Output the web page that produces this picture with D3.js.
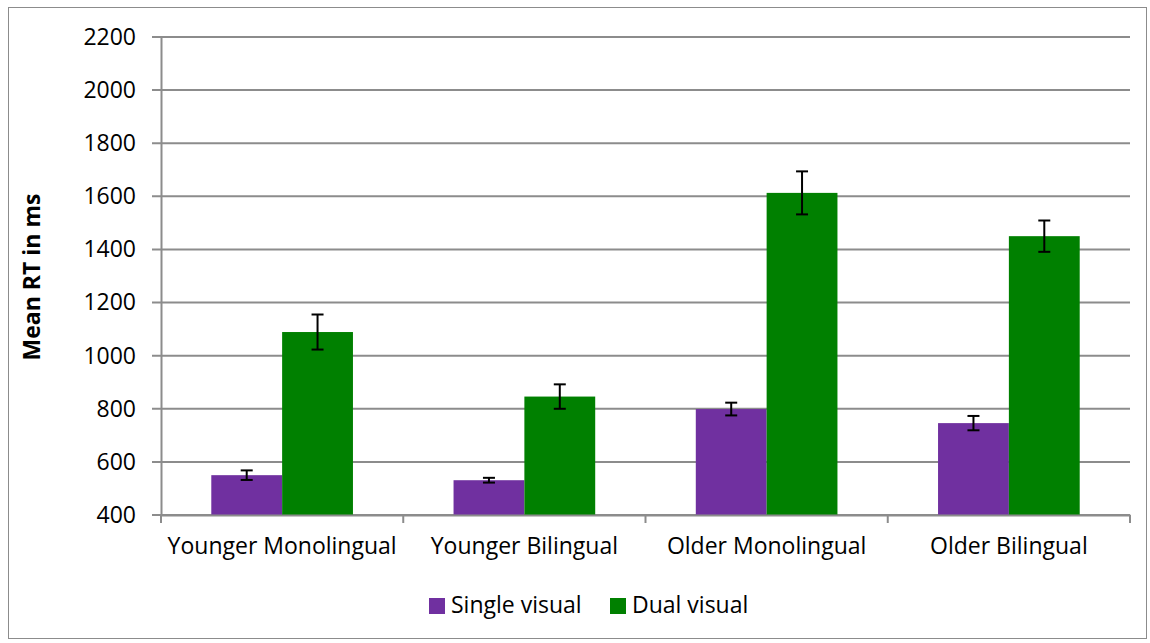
<!DOCTYPE html>
<html><head><meta charset="utf-8">
<script src="https://cdn.jsdelivr.net/npm/d3@7"></script>
<style>body{margin:0;background:#fff}svg{display:block}</style>
</head><body>
<script>
const categories = ["Younger Monolingual", "Younger Bilingual", "Older Monolingual", "Older Bilingual"];
const seriesNames = ["Single visual", "Dual visual"];
const singleVisual = [550, 531, 799, 746];
const dualVisual = [1089, 846, 1613, 1450];
const singleErr = [18, 9, 24, 27];
const dualErr = [66, 46, 81, 59];
const yTicks = [400, 600, 800, 1000, 1200, 1400, 1600, 1800, 2000, 2200];
const colors = ["#7030A0", "#008000"];

(function () {
const W = 1150, H = 643;
const font = "'Open Sans', Lato, sans-serif";
const fs = 23;
const svg = d3.select("body").append("svg").attr("width", W).attr("height", H);
svg.append("rect").attr("x", 8.5).attr("y", 7.5).attr("width", 1138).attr("height", 631)
  .attr("fill", "#fff").attr("stroke", "#8c8c8c").attr("stroke-width", 1);

const pL = 161, pR = 1130, pT = 37, pB = 515;
const x = d3.scaleBand().domain(categories).range([pL, pR]).paddingInner(0).paddingOuter(0);
const y = d3.scaleLinear().domain([400, 2200]).range([pB, pT]);
const xs = d3.scaleBand().domain(seriesNames).range([0, x.bandwidth()]).paddingInner(0).paddingOuter(0.71);

const gridColor = "#8c8c8c";
svg.append("g").selectAll("line").data(yTicks).join("line")
  .attr("x1", pL - 9).attr("x2", pR).attr("y1", d => y(d)).attr("y2", d => y(d))
  .attr("stroke", gridColor).attr("stroke-width", 2);

const yAxis = d3.axisLeft(y).tickValues(yTicks).tickFormat(d3.format("d")).tickSize(0).tickPadding(25);
const gy = svg.append("g").attr("transform", `translate(${pL},0)`).call(yAxis);
gy.select(".domain").attr("stroke", gridColor).attr("stroke-width", 2);
gy.selectAll("text").attr("font-family", font).attr("font-size", fs).attr("fill", "#000");

const data = categories.map((c, i) => ({c, vals: [
  {s: seriesNames[0], v: singleVisual[i], e: singleErr[i]},
  {s: seriesNames[1], v: dualVisual[i], e: dualErr[i]}]}));
const groups = svg.append("g").selectAll("g").data(data).join("g")
  .attr("transform", d => `translate(${x(d.c)},0)`);
groups.selectAll("rect").data(d => d.vals).join("rect")
  .attr("x", d => xs(d.s)).attr("width", xs.bandwidth())
  .attr("y", d => y(d.v)).attr("height", d => y(400) - y(d.v))
  .attr("fill", (d, i) => colors[i]);

const xAxis = d3.axisBottom(x).tickSize(0).tickPadding(23);
const gx = svg.append("g").attr("transform", `translate(0,${pB})`).call(xAxis);
gx.select(".domain").attr("stroke", gridColor).attr("stroke-width", 2);
gx.selectAll("text").attr("font-family", font).attr("font-size", fs).attr("fill", "#000");
svg.append("g").selectAll("line").data(d3.range(categories.length + 1)).join("line")
  .attr("x1", i => pL + i * x.step()).attr("x2", i => pL + i * x.step())
  .attr("y1", pB).attr("y2", pB + 8).attr("stroke", gridColor).attr("stroke-width", 2);

const eb = groups.selectAll("g.err").data(d => d.vals).join("g").attr("class", "err");
eb.append("line").attr("x1", d => xs(d.s) + xs.bandwidth() / 2).attr("x2", d => xs(d.s) + xs.bandwidth() / 2)
  .attr("y1", d => y(d.v + d.e)).attr("y2", d => y(d.v - d.e)).attr("stroke", "#000").attr("stroke-width", 2);
eb.selectAll("line.cap").data(d => [{d, v: d.v + d.e}, {d, v: d.v - d.e}]).join("line").attr("class", "cap")
  .attr("x1", o => xs(o.d.s) + xs.bandwidth() / 2 - 6).attr("x2", o => xs(o.d.s) + xs.bandwidth() / 2 + 6)
  .attr("y1", o => y(o.v)).attr("y2", o => y(o.v)).attr("stroke", "#000").attr("stroke-width", 2);

svg.append("text").attr("transform", `translate(40,${(pT + pB) / 2 + 1}) rotate(-90)`)
  .attr("text-anchor", "middle").attr("font-family", font).attr("font-weight", "bold")
  .attr("font-size", fs).text("Mean RT in ms");

const legX = [429, 610];
const leg = svg.append("g").selectAll("g").data(seriesNames).join("g")
  .attr("transform", (d, i) => `translate(${legX[i]},598)`);
leg.append("rect").attr("width", 16).attr("height", 16).attr("fill", (d, i) => colors[i]);
leg.append("text").attr("x", 22).attr("y", 15).attr("font-family", font).attr("font-size", fs).text(d => d);
})();
</script>
</body></html>
